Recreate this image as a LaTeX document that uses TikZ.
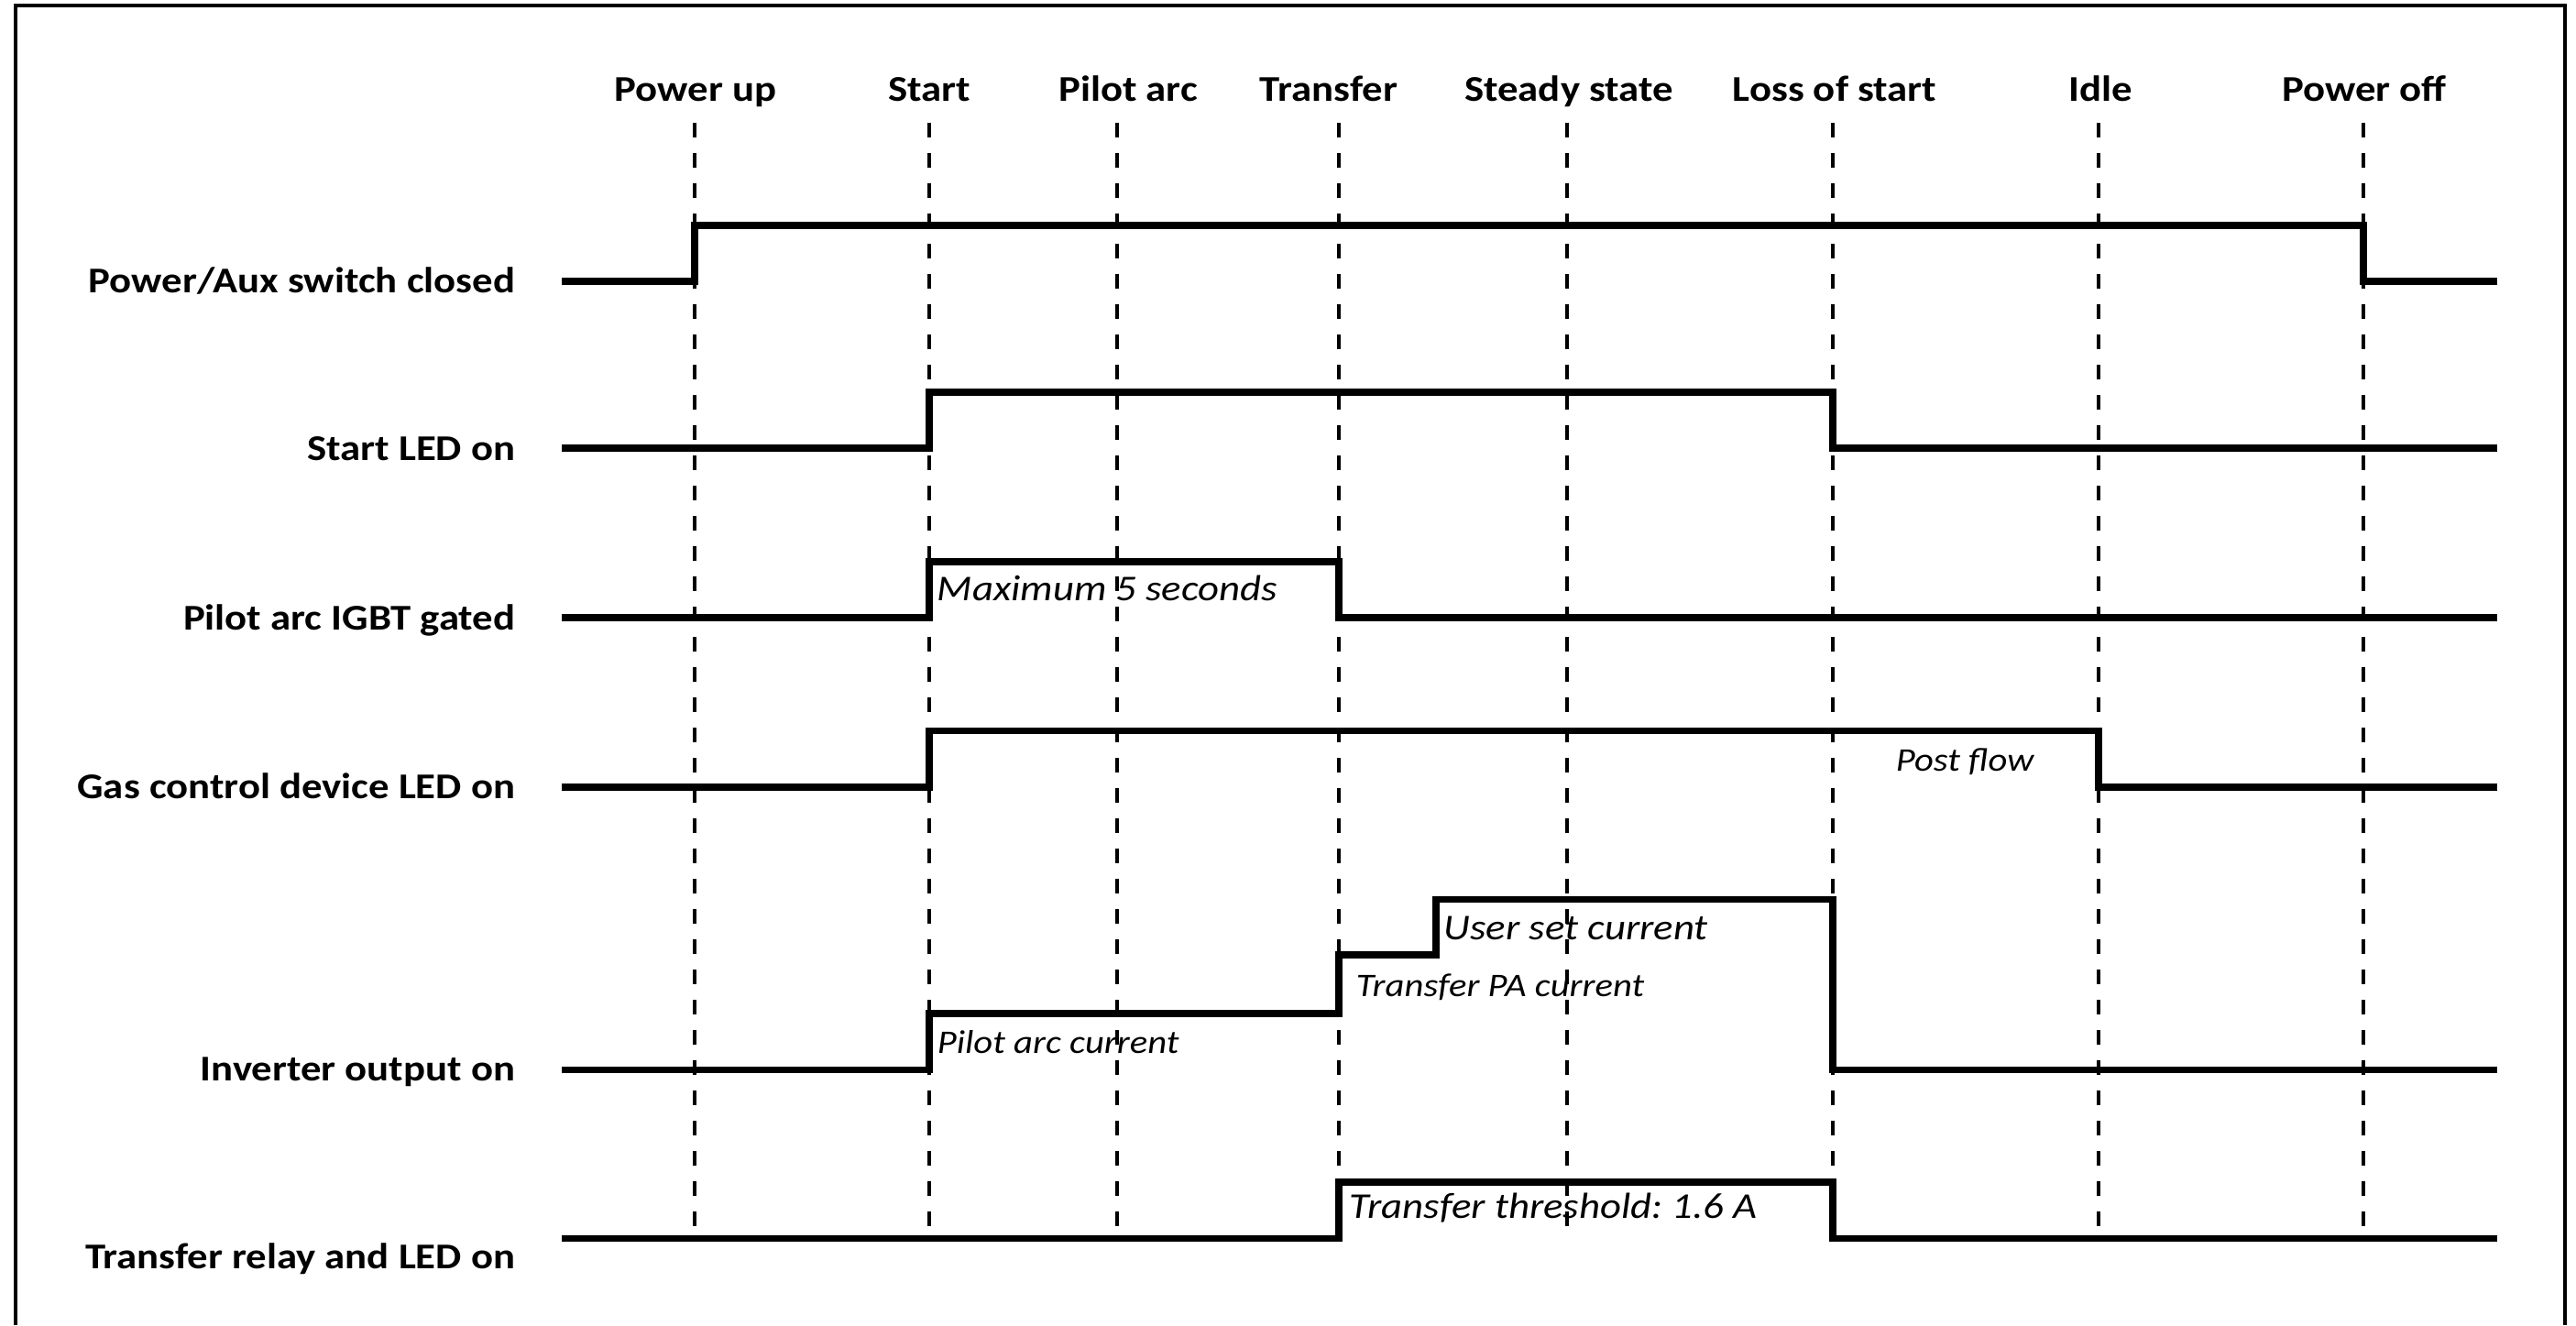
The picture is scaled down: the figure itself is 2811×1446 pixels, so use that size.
\documentclass[tikz,border=0pt]{standalone}
\usepackage{fontspec}
\setmainfont{Carlito}[FakeStretch=1.13]
\frenchspacing
\begin{document}
\begin{tikzpicture}[x=0.25pt,y=-0.25pt,
  sig/.style={line width=1.9pt,line join=miter,line cap=butt},
  guide/.style={line width=1.2pt,dash pattern=on 4pt off 4.25pt},
  frameline/.style={line width=1pt},
  phase/.style={font=\fontsize{9.9}{11}\selectfont\bfseries,inner sep=0pt,anchor=base},
  rowlabel/.style={font=\fontsize{9.9}{11}\selectfont\bfseries,inner sep=0pt,anchor=base east},
  notebig/.style={font=\fontsize{9.9}{11}\selectfont\itshape,inner sep=0pt,anchor=base west},
  notesmall/.style={font=\fontsize{9}{10}\selectfont\itshape,inner sep=0pt,anchor=base west}]
\useasboundingbox (0,0) rectangle (2811,1446);
\fill[white] (0,0) rectangle (2811,1446);
% frame (open at the bottom)
\draw[frameline] (16.5,1446) -- (16.5,6) -- (2799,6) -- (2799,1446);
% event times
\foreach \n/\x in {pu/758,st/1014,pa/1219,tr/1461,ss/1710,ls/2000,id/2290,po/2579}{
  \coordinate (\n top) at (\x,134);
  \coordinate (\n bot) at (\x,1352);
  \draw[guide] (\n top) -- (\n bot);
}
% phase labels
\node[phase] (hpu) at (759,110) {Power up};
\node[phase] (hst) at (1014,110) {Start};
\node[phase] (hpa) at (1231,110) {Pilot arc};
\node[phase] (htr) at (1450,110) {Transfer};
\node[phase] (hss) at (1712,110) {Steady state};
\node[phase] (hls) at (2002,110) {Loss of start};
\node[phase] (hid) at (2292,110) {Idle};
\node[phase] (hpo) at (2580,110) {Power off};
% row labels
\node[rowlabel] (lpw) at (563,319) {Power/Aux switch closed};
\node[rowlabel] (lsl) at (563,502) {Start LED on};
\node[rowlabel] (lpi) at (563,687) {Pilot arc IGBT gated};
\node[rowlabel] (lgc) at (563,871) {Gas control device LED on};
\node[rowlabel] (lio) at (563,1179) {Inverter output on};
\node[rowlabel] (lrl) at (563,1384) {Transfer relay and LED on};
% signals
\draw[sig] (613,307) -- (758,307) -- (758,246) -- (2579,246) -- (2579,307) -- (2725,307);
\draw[sig] (613,489) -- (1014,489) -- (1014,428) -- (2000,428) -- (2000,489) -- (2725,489);
\draw[sig] (613,674) -- (1014,674) -- (1014,613) -- (1461,613) -- (1461,674) -- (2725,674);
\draw[sig] (613,859) -- (1014,859) -- (1014,797.5) -- (2290,797.5) -- (2290,859) -- (2725,859);
\draw[sig] (613,1167.5) -- (1014,1167.5) -- (1014,1106) -- (1461,1106) -- (1461,1042) -- (1567,1042) -- (1567,981.5) -- (2000,981.5) -- (2000,1167.5) -- (2725,1167.5);
\draw[sig] (613,1351.5) -- (1461,1351.5) -- (1461,1290) -- (2000,1290) -- (2000,1351.5) -- (2725,1351.5);
% annotations
\node[notebig] (nmax) at (1022,655) {Maximum 5 seconds};
\node[notesmall] (npac) at (1022,1149) {Pilot arc current};
\node[notesmall] (ntpa) at (1479,1087) {Transfer PA current};
\node[notebig] (nusc) at (1575,1025) {User set current};
\node[notesmall] (npf) at (2068,841) {Post flow};
\node[notebig] (ntt) at (1472,1329) {Transfer threshold: 1.6 A};
\end{tikzpicture}
\end{document}
